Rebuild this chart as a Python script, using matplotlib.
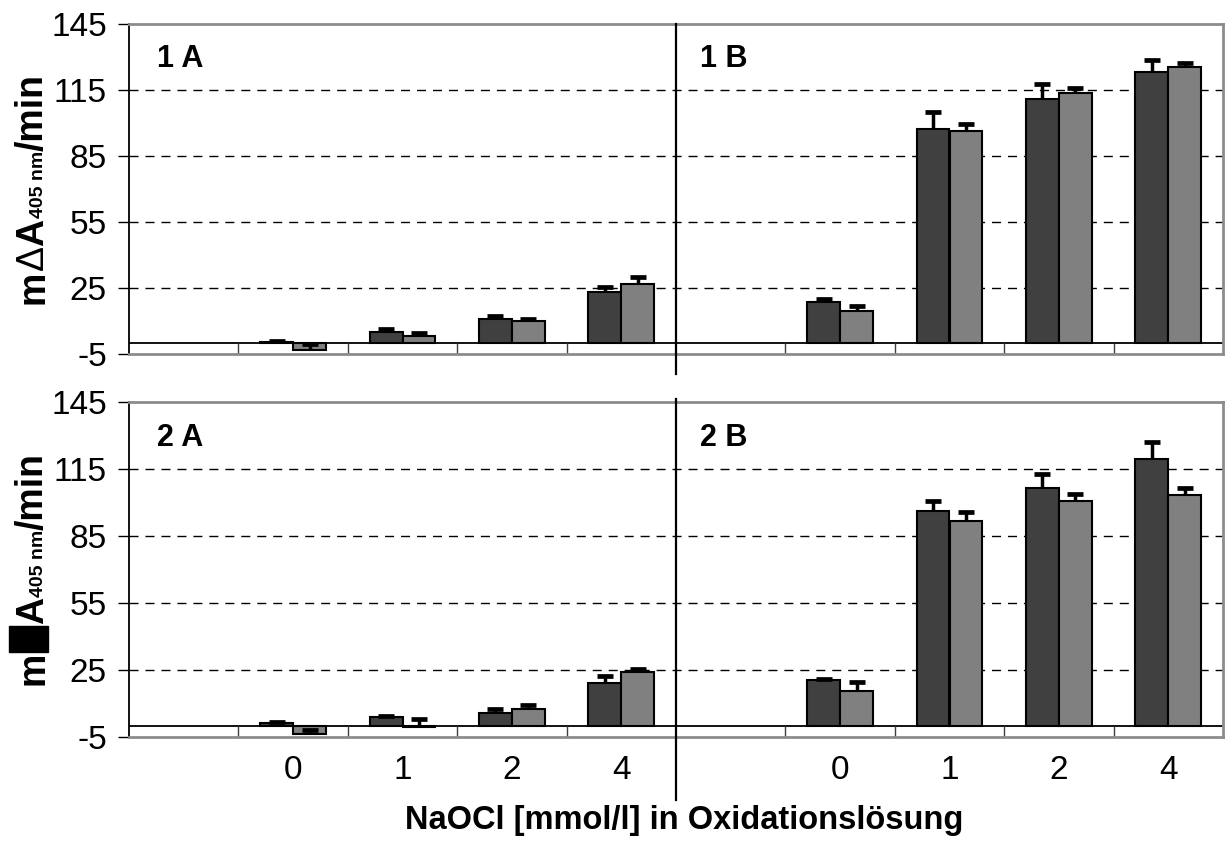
import matplotlib
matplotlib.use("Agg")
import matplotlib.pyplot as plt
from matplotlib.patches import Rectangle
import numpy as np

plt.rcParams['font.family'] = ['Liberation Sans', 'DejaVu Sans']
plt.rcParams['axes.unicode_minus'] = False

# =========================
# DATA
# =========================
doses = ["0", "1", "2", "4"]          # NaOCl mmol/l
panels = ["1 A", "1 B", "2 A", "2 B"]

# row 1 (top)
a1_dark = [0.3, 5.0, 10.8, 23.0]
a1_dark_err = [0.5, 1.4, 1.3, 2.5]
a1_gray = [-3.0, 3.2, 9.8, 26.8]
a1_gray_err = [2.7, 1.2, 1.3, 3.2]
b1_dark = [18.5, 97.4, 110.8, 123.3]
b1_dark_err = [1.5, 7.6, 6.8, 5.3]
b1_gray = [14.4, 96.4, 113.8, 125.5]
b1_gray_err = [2.2, 3.0, 2.0, 1.8]

# row 2 (bottom)
a2_dark = [1.4, 4.1, 5.6, 19.1]
a2_dark_err = [0.3, 0.4, 1.9, 3.3]
a2_gray = [-3.5, -0.5, 7.4, 24.2]
a2_gray_err = [1.8, 3.4, 1.9, 1.2]
b2_dark = [20.3, 96.2, 106.3, 119.5]
b2_dark_err = [0.5, 4.5, 6.5, 7.5]
b2_gray = [15.8, 91.7, 100.7, 103.4]
b2_gray_err = [3.7, 4.1, 3.0, 2.9]

yticks = [-5, 25, 55, 85, 115, 145]

DARK = "#404040"
GRAY = "#808080"
FRAME = "#8c8c8c"

W, H = 1226, 841
fig = plt.figure(figsize=(W / 100, H / 100), dpi=100)

ax1 = fig.add_axes([129 / W, 1 - 354 / H, 1094 / W, 330 / H])
ax2 = fig.add_axes([129 / W, 1 - 737 / H, 1094 / W, 335 / H])

pos_a = np.array([1, 2, 3, 4])
pos_b = np.array([6, 7, 8, 9])
bw = 0.3


def draw_bars(ax, pos, vals, errs, color, off):
    x = pos + off
    ax.bar(x, vals, bw, color=color, edgecolor="black", linewidth=1.5, zorder=3)
    top = np.array(vals) + np.array(errs)
    ax.vlines(x, vals, top, color="black", linewidth=2.5, zorder=4)
    ax.plot(x, top, ls="none", marker="_", ms=12, mew=3.4, color="black", zorder=4)


def style_axes(ax, label_a, label_b, line_lo, line_hi):
    ax.set_xlim(-0.5, 9.5)
    ax.set_ylim(-5, 145)
    ax.set_yticks(yticks)
    ax.tick_params(axis="y", direction="out", length=8, width=1, pad=8, labelsize=24)
    for y in yticks[1:-1]:
        ax.axhline(y, color="black", lw=1, ls=(0, (6.5, 5)), zorder=1)
    ax.axhline(0, color="black", lw=1.3, zorder=2)
    seps = [b for b in np.arange(0.5, 9.5, 1.0) if b != 4.5]
    ax.vlines(seps, -5, 0, color="#404040", lw=1, zorder=2)
    ax.plot([4.5, 4.5], [line_lo, line_hi], color="black", lw=1.6,
            transform=ax.get_xaxis_transform(), clip_on=False, zorder=5)
    for s in ["top", "right", "bottom"]:
        ax.spines[s].set_color(FRAME)
        ax.spines[s].set_linewidth(2)
    ax.spines["left"].set_color("black")
    ax.spines["left"].set_linewidth(1.3)
    ax.text(0.0256, 0.87, label_a, transform=ax.transAxes, fontsize=22,
            fontweight="bold", va="baseline")
    ax.text(0.522, 0.87, label_b, transform=ax.transAxes, fontsize=22,
            fontweight="bold", va="baseline")


draw_bars(ax1, pos_a, a1_dark, a1_dark_err, DARK, -bw / 2)
draw_bars(ax1, pos_a, a1_gray, a1_gray_err, GRAY, bw / 2)
draw_bars(ax1, pos_b, b1_dark, b1_dark_err, DARK, -bw / 2)
draw_bars(ax1, pos_b, b1_gray, b1_gray_err, GRAY, bw / 2)
style_axes(ax1, panels[0], panels[1], -20 / 330, 1.0)
ax1.set_xticks([])

draw_bars(ax2, pos_a, a2_dark, a2_dark_err, DARK, -bw / 2)
draw_bars(ax2, pos_a, a2_gray, a2_gray_err, GRAY, bw / 2)
draw_bars(ax2, pos_b, b2_dark, b2_dark_err, DARK, -bw / 2)
draw_bars(ax2, pos_b, b2_gray, b2_gray_err, GRAY, bw / 2)
style_axes(ax2, panels[2], panels[3], -63 / 335, 1.01)
ax2.set_xticks(list(pos_a) + list(pos_b))
ax2.set_xticklabels(doses + doses)
ax2.tick_params(axis="x", length=0, pad=13, labelsize=24)

fig.text(684 / W, 1 - 829 / H, "NaOCl [mmol/l] in Oxidationslösung",
         ha="center", va="baseline", fontsize=23.5, fontweight="bold")

# =========================
# Y LABELS (rotated pieces, small "405 nm")
# =========================
renderer = fig.canvas.get_renderer()


def text_len(s, size, weight):
    t = fig.text(0, 0, s, fontsize=size, fontweight=weight)
    w = t.get_window_extent(renderer).width
    t.remove()
    return w


def ylabel(center_px, box=False):
    base_x = 43
    parts = [("m", 27, "bold"), ("Δ", 27, "normal"), ("A", 27, "bold"),
             ("405 nm", 14, "bold"), ("/min", 27, "bold")]
    lens = []
    for s, size, wt in parts:
        if box and s == "Δ":
            lens.append(27)
        else:
            lens.append(text_len(s, size, wt))
    total = sum(lens)
    y = center_px + total / 2  # start at bottom (pixel coords from top)
    for (s, size, wt), L in zip(parts, lens):
        if box and s == "Δ":
            fig.add_artist(Rectangle((9 / W, 1 - y / H), 39 / W, (L - 1) / H,
                                     transform=fig.transFigure, color="black"))
        else:
            fig.text(base_x / W, 1 - y / H, s, fontsize=size, fontweight=wt,
                     rotation=90, rotation_mode="anchor", ha="left", va="baseline")
        y -= L


ylabel(189)
ylabel(569, box=True)

fig.savefig("out.png", dpi=100)
